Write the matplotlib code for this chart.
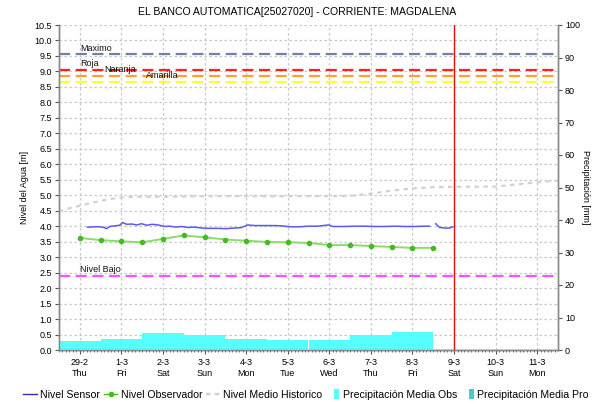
import numpy as np
import matplotlib
matplotlib.use("Agg")
import matplotlib.pyplot as plt
from matplotlib.patches import Rectangle
from matplotlib.legend_handler import HandlerPatch
from matplotlib.lines import Line2D

plt.rcParams['font.family'] = ['Liberation Sans', 'DejaVu Sans']

# ---- data ---------------------------------------------------------------
day_labels = ["29-2\nThu", "1-3\nFri", "2-3\nSat", "3-3\nSun", "4-3\nMon", "5-3\nTue",
              "6-3\nWed", "7-3\nThu", "8-3\nFri", "9-3\nSat", "10-3\nSun", "11-3\nMon"]

# daily mean precipitation (mm), one value per day from 29-2 to 8-3
precip_days = [0, 1, 2, 3, 4, 5, 6, 7, 8]
precip_obs = [2.9, 3.5, 5.3, 4.6, 3.4, 3.1, 3.1, 4.7, 5.5]

# observer readings (m), twice a day
obs_days = [0.0, 0.5, 1.0, 1.5, 2.0, 2.5, 3.0, 3.5, 4.0, 4.5, 5.0, 5.5,
            6.0, 6.5, 7.0, 7.5, 8.0, 8.5]
obs_level = [3.62, 3.55, 3.51, 3.48, 3.59, 3.70, 3.64, 3.57, 3.53, 3.49, 3.48, 3.46,
             3.39, 3.39, 3.36, 3.33, 3.30, 3.30]

# automatic sensor (m); NaN marks the transmission gap
sensor_days = [0.19, 0.36, 0.48, 0.58, 0.64, 0.72, 0.84, 0.96, 1.03, 1.13, 1.25, 1.37,
               1.49, 1.61, 1.73, 1.83, 1.92, 2.04, 2.16, 2.31, 2.45, 2.60, 2.76, 2.93,
               3.13, 3.32, 3.51, 3.70, 3.87, 3.97, 4.04, 4.21, 4.45, 4.69, 4.86, 5.05,
               5.29, 5.48, 5.72, 5.99, 6.08, 6.37, 6.61, 6.85, 7.09, 7.33, 7.57, 7.81,
               8.05, 8.29, 8.41, 8.48, 8.56, 8.65, 8.77, 8.89, 8.97]
sensor_level = [3.97, 3.98, 3.98, 3.96, 3.92, 3.99, 4.01, 4.03, 4.12, 4.06, 4.07, 4.04,
                4.08, 4.03, 4.06, 4.05, 4.03, 3.99, 4.00, 3.97, 3.99, 3.96, 3.97, 3.94,
                3.93, 3.93, 3.92, 3.94, 3.95, 4.00, 4.04, 4.02, 4.02, 4.02, 4.01, 3.98,
                3.98, 4.00, 4.00, 4.04, 3.99, 3.99, 4.00, 4.00, 3.99, 3.99, 4.00, 3.99,
                3.99, 4.00, 4.00, np.nan, 4.08, 3.96, 3.94, 3.94, 3.98]

# historical mean level (m)
hist_days = [-0.5, -0.25, 0.0, 0.25, 0.5, 0.75, 1.0, 1.5, 2.0, 3.0, 4.0, 5.0, 6.0,
             6.5, 7.0, 7.5, 8.0, 8.5, 9.0, 10.0, 10.5, 11.0, 11.5]
hist_level = [4.47, 4.58, 4.66, 4.74, 4.82, 4.88, 4.93, 4.95, 4.95, 4.97, 4.97, 4.97,
              4.97, 4.98, 5.05, 5.15, 5.22, 5.26, 5.27, 5.28, 5.35, 5.42, 5.47]

# alert thresholds (m)
threshold_names = ["Maximo", "Roja", "Naranja", "Amarilla", "Nivel Bajo"]
threshold_values = [9.55, 9.05, 8.85, 8.65, 2.40]
threshold_colors = ["#7080A8", "#FF2020", "#FFA030", "#FFFF30", "#FF50FF"]
threshold_label_x = [0.0, 0.0, 0.6, 1.6, 0.0]

current_day = 9

# ---- figure ---------------------------------------------------------------
fig = plt.figure(figsize=(5.95, 4.04), dpi=100)
ax = fig.add_axes([59 / 595, 1 - 350 / 404, (558 - 59) / 595, (350 - 25) / 404])
ax2 = ax.twinx()

ax.set_xlim(-0.5, 11.5)
ax.set_ylim(0, 10.5)
ax2.set_ylim(0, 100)

grid_kw = dict(color="#C8C8C8", linestyle=(0, (2, 2)), linewidth=0.9)
ax.grid(True, which="major", **grid_kw)
ax.set_axisbelow(True)

# thresholds
for name, val, col, lx in zip(threshold_names, threshold_values, threshold_colors,
                              threshold_label_x):
    ax.axhline(val, color=col, linestyle=(0, (5, 2.5)), linewidth=1.6, zorder=2)
    ax.text(lx, val + 0.06, name, fontsize=6.5, color="#111111",
            ha="left", va="bottom", zorder=5)

# historical mean
ax.plot(hist_days, hist_level, color="#D2D2D2", linestyle=(0, (2, 2)),
        linewidth=1.6, zorder=3)
# sensor
ax.plot(sensor_days, sensor_level, color="#5A5AF0", linewidth=1.1, zorder=4)
# observer
ax.plot(obs_days, obs_level, color="#8CDC6A", linewidth=1.4, zorder=4,
        marker="o", markersize=3.0, markerfacecolor="#44BB22",
        markeredgecolor="#44BB22")

# current time marker
ax.axvline(current_day, color="#E01010", linewidth=1.0, zorder=6)

# precipitation bars on the secondary axis
ax2.bar(precip_days, precip_obs, width=1.0, align="center", color="#55FFFF",
        linewidth=0, zorder=1)

# ticks
ax.set_xticks(range(len(day_labels)))
ax.set_xticklabels(day_labels, fontsize=6.5, linespacing=1.25)
ax.set_xticks(np.arange(-0.5, 11.5, 1 / 12), minor=True)
ax.set_yticks(np.arange(0, 10.51, 0.5))
ax.set_yticklabels([f"{v:.1f}" for v in np.arange(0, 10.51, 0.5)], fontsize=6.5)
ax2.set_yticks(np.arange(0, 101, 10))
ax2.set_yticklabels([str(v) for v in range(0, 101, 10)], fontsize=6.5)

ax.tick_params(axis="x", which="major", length=3, color="#555555", pad=3)
ax.tick_params(axis="x", which="minor", length=1.5, color="#555555")
ax.tick_params(axis="y", length=3, color="#555555", pad=2)
ax2.tick_params(axis="y", length=3, color="#555555", pad=2)

for a in (ax, ax2):
    a.spines["top"].set_visible(False)
    for s in ("left", "right", "bottom"):
        a.spines[s].set_color("#888888")
        a.spines[s].set_linewidth(1.0)
ax.spines["bottom"].set_color("#555555")

ax.set_ylabel("Nivel del Agua [m]", fontsize=6.5, labelpad=4)
ax2.set_ylabel("Precipitación [mm]", fontsize=6.5, rotation=270, labelpad=7)

fig.text(0.5, 1 - 12 / 404, "EL BANCO AUTOMATICA[25027020] - CORRIENTE: MAGDALENA",
         ha="center", va="center", fontsize=7.6)


# legend with narrow square swatches for the precipitation entries
class NarrowPatch(HandlerPatch):
    def create_artists(self, legend, orig_handle, xdescent, ydescent, width, height,
                       fontsize, trans):
        w = height * 0.75
        r = Rectangle((width - w - xdescent, -ydescent - 1), w, height + 2,
                      facecolor=orig_handle.get_facecolor(), edgecolor="none",
                      transform=trans)
        return [r]


handles = [
    Line2D([], [], color="#3030C0", linewidth=1.0),
    Line2D([], [], color="#44BB22", linewidth=1.0, marker="o", markersize=3),
    Line2D([], [], color="#CFCFCF", linewidth=1.6, linestyle=(0, (2, 2))),
    Rectangle((0, 0), 1, 1, facecolor="#55FFFF"),
    Rectangle((0, 0), 1, 1, facecolor="#44CCCC"),
]
labels = ["Nivel Sensor", "Nivel Observador", "Nivel Medio Historico",
          "Precipitación Media Obs", "Precipitación Media Pro"]
fig.legend(handles, labels, loc="center", bbox_to_anchor=(306 / 595, 1 - 395 / 404),
           ncol=5, frameon=False, fontsize=7.6, handlelength=1.3, handletextpad=0.3,
           columnspacing=0.35, borderaxespad=0, borderpad=0,
           handler_map={Rectangle: NarrowPatch()})

fig.savefig("out.png", dpi=100)
